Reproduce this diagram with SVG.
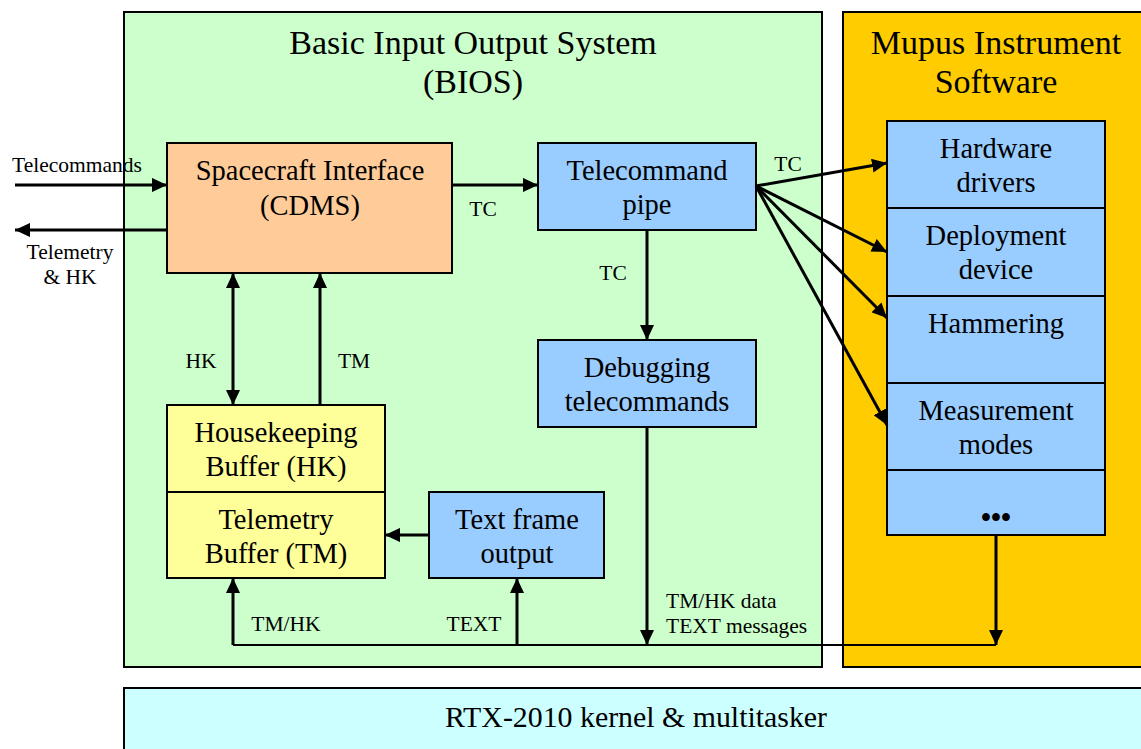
<svg xmlns="http://www.w3.org/2000/svg" width="1141" height="749" viewBox="0 0 1141 749">
<style>
.t{font-family:"Liberation Serif","Times New Roman",serif;fill:#000;text-anchor:middle}
.n{font-size:28.5px}
.h{font-size:34px}
.s{font-size:21.5px}
.l{text-anchor:start}
.box{stroke:#000;stroke-width:2}
.c{stroke:#000;stroke-width:3;fill:none}
.bus{stroke:#000;stroke-width:2;fill:none}
</style>
<defs>
<marker id="a" viewBox="0 0 10 10" refX="10" refY="5" markerWidth="5" markerHeight="4.7" orient="auto" markerUnits="strokeWidth" preserveAspectRatio="none">
<path d="M0,0 L10,5 L0,10 z" fill="#000"/>
</marker>
<marker id="as" viewBox="0 0 10 10" refX="0" refY="5" markerWidth="5" markerHeight="4.7" orient="auto" markerUnits="strokeWidth" preserveAspectRatio="none">
<path d="M10,0 L0,5 L10,10 z" fill="#000"/>
</marker>
</defs>
<rect width="1141" height="749" fill="#fff"/>
<g id="bios">
<rect class="box" x="124" y="12" width="698" height="655" fill="#CCFFCC"/>
<text class="t h" x="473" y="54">Basic Input Output System</text>
<text class="t h" x="473" y="93">(BIOS)</text>
</g>
<g id="mupus">
<rect class="box" x="843" y="12" width="310" height="655" fill="#FFCC00"/>
<text class="t h" x="996" y="54">Mupus Instrument</text>
<text class="t h" x="996" y="93">Software</text>
</g>
<g id="rtx">
<rect class="box" x="124" y="688" width="1030" height="80" fill="#CCFFFF"/>
<text class="t" x="636" y="727" font-size="30" textLength="382" lengthAdjust="spacingAndGlyphs">RTX-2010 kernel &amp;  multitasker</text>
</g>
<g id="spacecraft">
<rect class="box" x="167" y="143" width="285" height="130" fill="#FFCC99"/>
<text class="t n" x="310" y="180">Spacecraft Interface</text>
<text class="t n" x="310" y="215">(CDMS)</text>
</g>
<g id="tcpipe">
<rect class="box" x="538" y="143" width="218" height="87" fill="#99CCFF"/>
<text class="t n" x="647" y="180">Telecommand</text>
<text class="t n" x="647" y="214">pipe</text>
</g>
<g id="debug">
<rect class="box" x="538" y="340" width="218" height="87" fill="#99CCFF"/>
<text class="t n" x="647" y="377">Debugging</text>
<text class="t n" x="647" y="411">telecommands</text>
</g>
<g id="hkbuf">
<rect class="box" x="167" y="405" width="218" height="87" fill="#FFFF99"/>
<text class="t n" x="276" y="442">Housekeeping</text>
<text class="t n" x="276" y="476">Buffer (HK)</text>
</g>
<g id="tmbuf">
<rect class="box" x="167" y="492" width="218" height="86" fill="#FFFF99"/>
<text class="t n" x="276" y="529">Telemetry</text>
<text class="t n" x="276" y="563">Buffer (TM)</text>
</g>
<g id="textframe">
<rect class="box" x="429" y="492" width="175" height="86" fill="#99CCFF"/>
<text class="t n" x="517" y="529">Text frame</text>
<text class="t n" x="517" y="563">output</text>
</g>
<g id="hwdrivers">
<rect class="box" x="887" y="121" width="218" height="87" fill="#99CCFF"/>
<text class="t n" x="996" y="158">Hardware</text>
<text class="t n" x="996" y="192">drivers</text>
</g>
<g id="deploy">
<rect class="box" x="887" y="208" width="218" height="88" fill="#99CCFF"/>
<text class="t n" x="996" y="245">Deployment</text>
<text class="t n" x="996" y="279">device</text>
</g>
<g id="hammer">
<rect class="box" x="887" y="296" width="218" height="87" fill="#99CCFF"/>
<text class="t n" x="996" y="333">Hammering</text>
</g>
<g id="measure">
<rect class="box" x="887" y="383" width="218" height="87" fill="#99CCFF"/>
<text class="t n" x="996" y="420">Measurement</text>
<text class="t n" x="996" y="454">modes</text>
</g>
<g id="more">
<rect class="box" x="887" y="470" width="218" height="65" fill="#99CCFF"/>
<text class="t n" x="996" y="527" font-weight="bold">•••</text>
</g>
<g id="connectors">
<line class="c" x1="15" y1="185" x2="167" y2="185" marker-end="url(#a)"/>
<line class="c" x1="167" y1="230" x2="15" y2="230" marker-end="url(#a)"/>
<line class="c" x1="452" y1="185" x2="538" y2="185" marker-end="url(#a)"/>
<line class="c" x1="647" y1="230" x2="647" y2="340" marker-end="url(#a)"/>
<line class="c" x1="756" y1="186" x2="887" y2="163" marker-end="url(#a)"/>
<line class="c" x1="756" y1="186" x2="887" y2="252" marker-end="url(#a)"/>
<line class="c" x1="756" y1="186" x2="887" y2="318" marker-end="url(#a)"/>
<line class="c" x1="756" y1="186" x2="887" y2="425" marker-end="url(#a)"/>
<line class="c" x1="233" y1="273" x2="233" y2="405" marker-start="url(#as)" marker-end="url(#a)"/>
<line class="c" x1="320" y1="405" x2="320" y2="273" marker-end="url(#a)"/>
<line class="c" x1="429" y1="535" x2="385" y2="535" marker-end="url(#a)"/>
<polyline class="bus" points="233,645 996,645"/>
<line class="c" x1="233" y1="645" x2="233" y2="578" marker-end="url(#a)"/>
<line class="c" x1="517" y1="645" x2="517" y2="578" marker-end="url(#a)"/>
<line class="c" x1="647" y1="427" x2="647" y2="645" marker-end="url(#a)"/>
<line class="c" x1="996" y1="535" x2="996" y2="645" marker-end="url(#a)"/>
<text class="t s" x="77" y="172">Telecommands</text>
<text class="t s" x="70" y="259">Telemetry</text>
<text class="t s" x="70" y="284">&amp; HK</text>
<text class="t s" x="483" y="216">TC</text>
<text class="t s" x="613" y="280">TC</text>
<text class="t s" x="788" y="171">TC</text>
<text class="t s" x="201" y="368">HK</text>
<text class="t s" x="354" y="368">TM</text>
<text class="t s" x="286" y="631">TM/HK</text>
<text class="t s" x="474" y="631">TEXT</text>
<text class="t s l" x="666" y="608">TM/HK data</text>
<text class="t s l" x="666" y="633">TEXT messages</text>
</g>
</svg>
